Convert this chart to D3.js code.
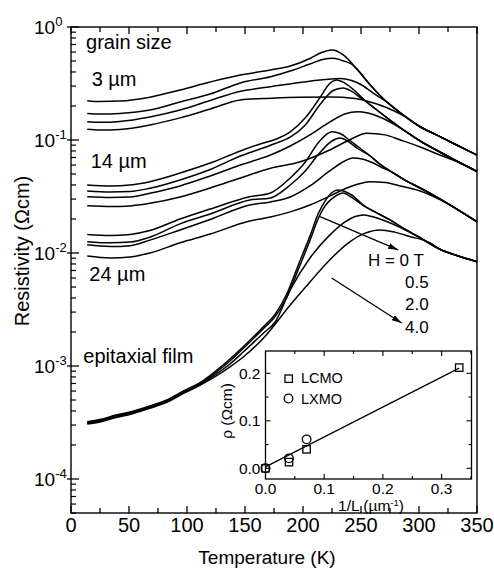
<!DOCTYPE html>
<html>
<head>
<meta charset="utf-8">
<script src="https://cdn.jsdelivr.net/npm/d3@7/dist/d3.min.js"></script>
<style>
  html, body { margin: 0; padding: 0; background: #fff; }
  svg { display: block; }
  text { font-family: "Liberation Sans", Arial, Helvetica, sans-serif; fill: #000; }
</style>
</head>
<body>
<svg id="chart" width="494" height="570"></svg>
<script>
// ---- Resistivity (Ω·cm) vs temperature (K), [T, rho] pairs ----
// grain size 3 µm, H = 0 / 0.5 / 2 / 4 T
const g3_H0 = [[14,0.223],[25,0.219],[42,0.221],[68,0.239],[94,0.277],[120,0.326],[146,0.376],[172,0.416],[189,0.451],[206,0.526],[216,0.595],[225,0.626],[235,0.565],[246,0.431],[258,0.307],[272,0.218],[286.5,0.166],[301,0.131],[315,0.111],[332.5,0.0903],[350,0.0736]];
const g3_H05 = [[14,0.172],[25,0.170],[42,0.172],[68,0.184],[94,0.217],[120,0.255],[146,0.320],[172,0.363],[189,0.408],[206,0.471],[217,0.516],[226,0.528],[235,0.500],[242,0.468],[246,0.428],[258,0.307],[272,0.218],[286.5,0.166],[301,0.131],[315,0.111],[332.5,0.0903],[350,0.0736]];
const g3_H2 = [[14,0.145],[25,0.1435],[42,0.146],[68,0.160],[94,0.184],[120,0.224],[146,0.270],[172,0.296],[197,0.323],[219,0.343],[232,0.350],[242,0.336],[251,0.305],[260,0.262],[272,0.218],[286.5,0.166],[301,0.131],[315,0.111],[332.5,0.0903],[350,0.0736]];
const g3_H4 = [[14,0.1244],[25,0.1225],[42,0.124],[68,0.136],[94,0.157],[120,0.188],[146,0.226],[172,0.234],[197,0.239],[223,0.240],[245,0.233],[258,0.217],[272,0.194],[286.5,0.164],[301,0.131],[315,0.111],[332.5,0.0903],[350,0.0736]];

// grain size 14 µm
const g14_H0 = [[14,0.0400],[34,0.0392],[51,0.0400],[68,0.0428],[94,0.0510],[120,0.0625],[146,0.0800],[163,0.0922],[176,0.101],[189,0.118],[202,0.157],[215,0.240],[223,0.316],[229,0.340],[236,0.319],[245,0.271],[253,0.226],[262,0.190],[275,0.150],[289,0.118],[301,0.0980],[318,0.0783],[332.5,0.0652],[350,0.0526]];
const g14_H05 = [[14,0.0354],[34,0.0347],[51,0.0350],[68,0.0374],[94,0.0443],[120,0.0548],[146,0.0722],[163,0.0832],[176,0.0931],[189,0.106],[202,0.136],[215,0.208],[226,0.274],[234.5,0.289],[242,0.269],[251,0.231],[262,0.190],[275,0.150],[289,0.118],[301,0.0980],[318,0.0783],[332.5,0.0652],[350,0.0526]];
const g14_H2 = [[14,0.0315],[34,0.0310],[51,0.0313],[68,0.0338],[94,0.0392],[120,0.0480],[146,0.0601],[172,0.0736],[189,0.0885],[206,0.111],[223,0.144],[236,0.170],[247,0.178],[256,0.173],[266,0.160],[279,0.137],[292,0.113],[301,0.0980],[318,0.0783],[332.5,0.0652],[350,0.0526]];
const g14_H4 = [[14,0.0262],[34,0.0258],[51,0.0261],[68,0.0275],[94,0.0313],[120,0.0376],[146,0.0461],[172,0.0562],[197,0.0638],[223,0.0816],[240,0.100],[255,0.115],[271,0.111],[284,0.100],[301,0.0867],[318,0.0736],[332.5,0.0645],[350,0.0526]];

// grain size 24 µm
const g24_H0 = [[14,0.0146],[34,0.0143],[51,0.0146],[68,0.0158],[94,0.0200],[120,0.0245],[154,0.0315],[172,0.0340],[189,0.0461],[202,0.0638],[213,0.0940],[225,0.118],[232,0.114],[240,0.100],[249,0.0849],[258,0.0722],[266,0.0614],[275,0.0532],[289,0.0434],[301,0.0376],[318,0.0301],[332.5,0.0245],[350,0.0189]];
const g24_H05 = [[14,0.0126],[34,0.0123],[51,0.0125],[68,0.0138],[94,0.0181],[120,0.0221],[154,0.0294],[172,0.0307],[189,0.0400],[202,0.0532],[215,0.0783],[225,0.0980],[232,0.104],[239,0.0970],[247,0.0841],[258,0.0722],[266,0.0614],[275,0.0532],[289,0.0434],[301,0.0376],[318,0.0301],[332.5,0.0245],[350,0.0189]];
const g24_H2 = [[14,0.0118],[34,0.0114],[51,0.0116],[68,0.0130],[94,0.0160],[120,0.0198],[154,0.0266],[172,0.0283],[189,0.0313],[206,0.0392],[223,0.0532],[236,0.0652],[243,0.0693],[251,0.0679],[259.5,0.0632],[268,0.0571],[275,0.0532],[289,0.0434],[301,0.0376],[318,0.0301],[332.5,0.0245],[350,0.0189]];
const g24_H4 = [[14,0.0094],[34,0.00903],[51,0.00922],[68,0.0100],[94,0.0123],[120,0.0147],[154,0.0192],[172,0.0208],[189,0.0231],[206,0.0266],[223,0.0319],[240,0.0384],[258,0.0428],[271,0.0421],[284,0.0392],[301,0.0354],[318,0.0297],[332.5,0.0245],[350,0.0189]];

// epitaxial film
const film_H0 = [[14,3.21e-4],[25,3.36e-4],[39,3.68e-4],[49,3.87e-4],[68,4.43e-4],[82.5,5.00e-4],[97,6.01e-4],[111,7.08e-4],[126,9.23e-4],[137,1.153e-3],[148.5,1.48e-3],[166,2.23e-3],[176,2.88e-3],[186,4.34e-3],[197,8.32e-3],[206,0.0141],[213,0.0221],[219,0.0288],[225,0.0343],[230,0.0361],[236,0.0350],[242,0.0326],[252,0.0266],[262,0.0231],[275,0.0196],[289,0.0160],[301,0.0137],[318,0.0108],[332.5,0.0095],[350,0.00838]];
const film_H05 = [[14,3.16e-4],[25,3.31e-4],[39,3.62e-4],[49,3.81e-4],[68,4.36e-4],[82.5,4.92e-4],[97,5.91e-4],[111,6.97e-4],[126,8.94e-4],[137,1.107e-3],[148.5,1.43e-3],[166,2.15e-3],[176,2.74e-3],[186,4.04e-3],[197,7.60e-3],[206,0.0129],[213,0.0200],[219,0.0261],[228,0.0319],[234.5,0.0340],[242,0.0310],[252,0.0263],[262,0.0231],[275,0.0196],[289,0.0160],[301,0.0137],[318,0.0108],[332.5,0.0095],[350,0.00838]];
const film_H2 = [[14,3.11e-4],[25,3.25e-4],[39,3.56e-4],[49,3.75e-4],[68,4.29e-4],[82.5,4.84e-4],[97,5.82e-4],[111,6.85e-4],[126,8.59e-4],[137,1.042e-3],[148.5,1.33e-3],[166,1.96e-3],[176,2.45e-3],[189,4.71e-3],[206,9.03e-3],[223,0.0144],[236,0.0188],[245,0.0210],[252,0.0217],[259.5,0.0210],[271,0.0192],[284,0.0168],[298,0.0141],[318,0.0108],[332.5,0.0095],[350,0.00838]];
const film_H4 = [[14,3.06e-4],[25,3.20e-4],[39,3.50e-4],[49,3.68e-4],[68,4.22e-4],[82.5,4.76e-4],[97,5.72e-4],[111,6.74e-4],[126,8.24e-4],[137,9.80e-4],[148.5,1.20e-3],[166,1.77e-3],[189,3.47e-3],[206,5.54e-3],[223,8.67e-3],[240,0.0125],[253,0.0149],[266,0.0160],[279,0.0153],[292,0.0140],[309.5,0.0123],[318,0.0108],[332.5,0.0095],[350,0.00838]];

// ---- inset: ρ vs inverse grain size 1/L (µm^-1) ----
const invL_LCMO = [0, 0.04, 0.07, 0.33];
const rho_LCMO  = [0.000, 0.013, 0.040, 0.212];
const invL_LXMO = [0, 0.04, 0.07];
const rho_LXMO  = [0.000, 0.021, 0.061];
const fit_invL  = [0, 0.33];
const fit_rho   = [0.003, 0.211];

// ---- tick values and labels ----
const xTicks = [0, 50, 100, 150, 200, 250, 300, 350];
const yExponents = [0, -1, -2, -3, -4];
const fieldLabels = ["H = 0 T", "0.5", "2.0", "4.0"];
const insetXTicks = [0.0, 0.1, 0.2, 0.3];
const insetYTicks = [0.0, 0.1, 0.2];

const curves = [g3_H0, g3_H05, g3_H2, g3_H4, g14_H0, g14_H05, g14_H2, g14_H4,
                g24_H0, g24_H05, g24_H2, g24_H4, film_H0, film_H05, film_H2, film_H4];

const svg = d3.select("#chart");
const plot = { left: 71, right: 477, top: 27, bottom: 513 };

const x = d3.scaleLinear().domain([0, 350]).range([plot.left, plot.right]);
const y = d3.scaleLog().domain([5e-5, 1]).range([plot.bottom, plot.top]);

svg.append("defs").append("marker")
  .attr("id", "arrow").attr("viewBox", "0 0 10 6")
  .attr("refX", 10).attr("refY", 3)
  .attr("markerWidth", 10).attr("markerHeight", 6)
  .attr("markerUnits", "userSpaceOnUse")
  .attr("orient", "auto")
  .append("path").attr("d", "M0,0 L10,3 L0,6 Z").attr("fill", "#000");

// ---- curves ----
const line = d3.line()
  .x(d => x(d[0]))
  .y(d => y(d[1]))
  .curve(d3.curveMonotoneX);

svg.append("g").selectAll("path").data(curves).join("path")
  .attr("d", line)
  .attr("fill", "none")
  .attr("stroke", "#000")
  .attr("stroke-width", 1.5)
  .attr("stroke-linejoin", "round");

// ---- frame ----
svg.append("rect")
  .attr("x", plot.left).attr("y", plot.top)
  .attr("width", plot.right - plot.left).attr("height", plot.bottom - plot.top)
  .attr("fill", "none").attr("stroke", "#000").attr("stroke-width", 1.4);

// x ticks: bottom (labelled) and top, pointing inward
const xAll = d3.range(0, 351, 25);
svg.append("g").selectAll("line").data(xAll).join("line")
  .attr("x1", d => x(d)).attr("x2", d => x(d))
  .attr("y1", plot.bottom).attr("y2", d => plot.bottom - (d % 50 === 0 ? 7 : 5))
  .attr("stroke", "#000").attr("stroke-width", 1.3);
svg.append("g").selectAll("line").data(xAll).join("line")
  .attr("x1", d => x(d)).attr("x2", d => x(d))
  .attr("y1", plot.top).attr("y2", d => plot.top + (d % 50 === 0 ? 7 : 5))
  .attr("stroke", "#000").attr("stroke-width", 1.3);
svg.append("g").selectAll("text").data(xTicks).join("text")
  .attr("x", d => x(d)).attr("y", plot.bottom + 19)
  .attr("text-anchor", "middle").attr("font-size", 20)
  .text(d => d);

// y ticks: decades cross the axis, minor ticks inward
const yMinor = [];
for (let e = -5; e < 0; e++) for (let m = 2; m <= 9; m++) {
  const v = m * Math.pow(10, e);
  if (v >= 5e-5 && v < 1) yMinor.push(v);
}
svg.append("g").selectAll("line").data(yMinor).join("line")
  .attr("x1", plot.left).attr("x2", plot.left + 5)
  .attr("y1", d => y(d)).attr("y2", d => y(d))
  .attr("stroke", "#000").attr("stroke-width", 1.2);
svg.append("g").selectAll("line").data(yExponents).join("line")
  .attr("x1", plot.left - 4).attr("x2", plot.left + 8)
  .attr("y1", d => y(Math.pow(10, d))).attr("y2", d => y(Math.pow(10, d)))
  .attr("stroke", "#000").attr("stroke-width", 1.3);
const yLab = svg.append("g").selectAll("text").data(yExponents).join("text")
  .attr("x", 34).attr("y", d => y(Math.pow(10, d)) + 7)
  .attr("font-size", 19);
yLab.append("tspan").text("10");
yLab.append("tspan").attr("dy", -8).attr("font-size", 13).text(d => d === 0 ? "0" : "-" + Math.abs(d));

// axis titles
svg.append("text")
  .attr("x", 267).attr("y", 564)
  .attr("text-anchor", "middle").attr("font-size", 19)
  .text("Temperature (K)");
svg.append("text")
  .attr("transform", "translate(29,251) rotate(-90)")
  .attr("text-anchor", "middle").attr("font-size", 20)
  .text("Resistivity (Ωcm)");

// ---- annotations in data space ----
const ann = svg.append("g").attr("font-size", 20);
ann.append("text").attr("x", x(13)).attr("y", y(0.645)).text("grain size");
ann.append("text").attr("x", x(17.8)).attr("y", y(0.30)).text("3 µm");
ann.append("text").attr("x", x(17)).attr("y", y(0.0565)).text("14 µm");
ann.append("text").attr("x", x(15.8)).attr("y", y(5.69e-3)).text("24 µm");
ann.append("text").attr("x", x(10.6)).attr("y", y(1.06e-3)).text("epitaxial film");

// field labels
const fieldRho = [7.67e-3, 4.90e-3, 3.13e-3, 1.96e-3];
svg.append("g").selectAll("text").data(fieldLabels).join("text")
  .attr("x", (d, i) => i === 0 ? x(256) : x(288))
  .attr("y", (d, i) => y(fieldRho[i]))
  .attr("font-size", 17)
  .text(d => d);

// arrows
const arrows = [[[214.7, 0.0210], [282, 0.01064]], [[224.7, 6.01e-3], [285, 2.40e-3]]];
svg.append("g").selectAll("line").data(arrows).join("line")
  .attr("x1", d => x(d[0][0])).attr("y1", d => y(d[0][1]))
  .attr("x2", d => x(d[1][0])).attr("y2", d => y(d[1][1]))
  .attr("stroke", "#000").attr("stroke-width", 1.3)
  .attr("marker-end", "url(#arrow)");

// ---- inset ----
const ins = { left: 265.5, right: 471.5, top: 351, bottom: 479 };
const xi = d3.scaleLinear().domain([0, 0.35]).range([ins.left, ins.left + 0.35 * 587]);
const yi = d3.scaleLinear().domain([-0.0225, 0.247]).range([ins.bottom, ins.top]);
const gi = svg.append("g");

gi.append("rect")
  .attr("x", ins.left).attr("y", ins.top)
  .attr("width", ins.right - ins.left).attr("height", ins.bottom - ins.top)
  .attr("fill", "#fff").attr("stroke", "#000").attr("stroke-width", 1.3);

const ixAll = d3.range(0, 0.351, 0.05);
gi.append("g").selectAll("line").data(ixAll).join("line")
  .attr("x1", d => xi(d)).attr("x2", d => xi(d))
  .attr("y1", ins.bottom).attr("y2", (d, i) => ins.bottom - (i % 2 === 0 ? 5 : 3))
  .attr("stroke", "#000").attr("stroke-width", 1.1);
gi.append("g").selectAll("line").data(ixAll).join("line")
  .attr("x1", d => xi(d)).attr("x2", d => xi(d))
  .attr("y1", ins.top).attr("y2", (d, i) => ins.top + (i % 2 === 0 ? 5 : 3))
  .attr("stroke", "#000").attr("stroke-width", 1.1);
const iyAll = [0, 0.05, 0.1, 0.15, 0.2];
gi.append("g").selectAll("line").data(iyAll).join("line")
  .attr("x1", ins.left).attr("x2", (d, i) => ins.left + (i % 2 === 0 ? 5 : 3))
  .attr("y1", d => yi(d)).attr("y2", d => yi(d))
  .attr("stroke", "#000").attr("stroke-width", 1.1);
gi.append("g").selectAll("line").data(iyAll).join("line")
  .attr("x1", ins.right).attr("x2", (d, i) => ins.right - (i % 2 === 0 ? 5 : 3))
  .attr("y1", d => yi(d)).attr("y2", d => yi(d))
  .attr("stroke", "#000").attr("stroke-width", 1.1);

gi.append("g").selectAll("text").data(insetXTicks).join("text")
  .attr("x", d => xi(d)).attr("y", ins.bottom + 14.5)
  .attr("text-anchor", "middle").attr("font-size", 15.5)
  .text(d => d.toFixed(1));
gi.append("g").selectAll("text").data(insetYTicks).join("text")
  .attr("x", ins.left - 5).attr("y", d => yi(d) + 5.5)
  .attr("text-anchor", "end").attr("font-size", 15.5)
  .text(d => d.toFixed(1));

const ixt = gi.append("text").attr("x", 371).attr("y", 511)
  .attr("text-anchor", "middle").attr("font-size", 15.5);
ixt.append("tspan").text("1/L (µm");
ixt.append("tspan").attr("dy", -5.5).attr("font-size", 9.5).text("-1");
ixt.append("tspan").attr("dy", 5.5).text(")");

gi.append("text")
  .attr("transform", "translate(232,411) rotate(-90)")
  .attr("text-anchor", "middle").attr("font-size", 15.5)
  .text("ρ (Ωcm)");

// fit line
gi.append("line")
  .attr("x1", xi(fit_invL[0])).attr("y1", yi(fit_rho[0]))
  .attr("x2", xi(fit_invL[1])).attr("y2", yi(fit_rho[1]))
  .attr("stroke", "#000").attr("stroke-width", 1.2);

// LCMO squares
gi.append("g").selectAll("rect").data(invL_LCMO).join("rect")
  .attr("x", d => xi(d) - 3.7).attr("y", (d, i) => yi(rho_LCMO[i]) - 3.7)
  .attr("width", 7.4).attr("height", 7.4)
  .attr("fill", "none").attr("stroke", "#000").attr("stroke-width", 1.3);
// LXMO circles
gi.append("g").selectAll("circle").data(invL_LXMO).join("circle")
  .attr("cx", d => xi(d)).attr("cy", (d, i) => yi(rho_LXMO[i]))
  .attr("r", 4.3)
  .attr("fill", "none").attr("stroke", "#000").attr("stroke-width", 1.3);

// legend
gi.append("rect").attr("x", 285).attr("y", 375).attr("width", 7.4).attr("height", 7.4)
  .attr("fill", "none").attr("stroke", "#000").attr("stroke-width", 1.3);
gi.append("text").attr("x", 301).attr("y", 383).attr("font-size", 14.5).text("LCMO");
gi.append("circle").attr("cx", 288.5).attr("cy", 398.5).attr("r", 4.3)
  .attr("fill", "none").attr("stroke", "#000").attr("stroke-width", 1.3);
gi.append("text").attr("x", 301).attr("y", 404).attr("font-size", 14.5).text("LXMO");
</script>
</body>
</html>
